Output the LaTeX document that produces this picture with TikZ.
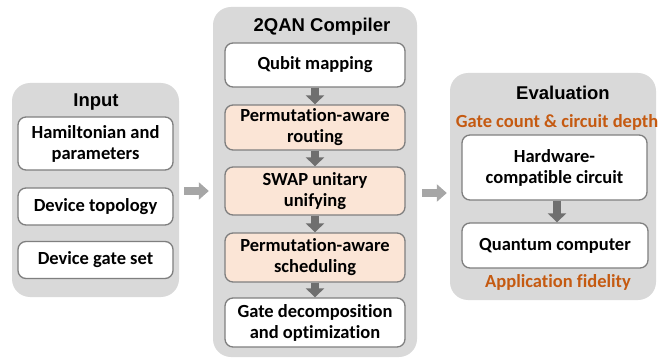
\documentclass[tikz,border=0pt]{standalone}
\usepackage{fontspec}
\setmainfont{Carlito}[Ligatures=NoCommon]
\newfontfamily\headfont{Liberation Sans}
\usetikzlibrary{arrows.meta}

\definecolor{panelgray}{HTML}{D9D9D9}
\definecolor{boxline}{HTML}{7F7F7F}
\definecolor{peach}{HTML}{FBE5D6}
\definecolor{metricorange}{HTML}{C55A11}
\definecolor{flowgray}{HTML}{A6A6A6}
\definecolor{stepgray}{HTML}{6F6F6F}

\tikzset{
  panel/.style={fill=panelgray, rounded corners=18pt, inner sep=0pt},
  stage/.style={draw=boxline, line width=1.3pt, fill=white, rounded corners=8pt,
    align=center, inner sep=2pt, font=\fontsize{18.5}{21}\selectfont\bfseries},
  newstage/.style={stage, fill=peach},
  paneltitle/.style={font=\headfont\fontsize{18.5}{21}\selectfont\bfseries},
  metric/.style={text=metricorange, font=\fontsize{18.5}{21}\selectfont\bfseries},
  flow/.style={flowgray, line width=7pt, -{Triangle[length=10pt,width=17pt]}},
  substep/.style={stepgray, line width=8pt, -{Triangle[length=9pt,width=18pt]}}
}

\begin{document}
\begin{tikzpicture}[x=1pt,y=-1pt]
  \useasboundingbox (0,0) rectangle (658,358);

  \node[panel, minimum width=167, minimum height=214] (input) at (95.5,190) {};
  \node[panel, minimum width=204, minimum height=350] (comp) at (315,182) {};
  \node[panel, minimum width=206, minimum height=227] (eval) at (553,186.5) {};

  \begin{scope}
    \node[paneltitle] (intitle) at (96,102) {Input};
    \node[stage, minimum width=155, minimum height=53] (ham) at (95.5,143.5) {Hamiltonian and\\parameters};
    \node[stage, minimum width=155, minimum height=37] (topo) at (95.5,206.5) {Device topology};
    \node[stage, minimum width=155, minimum height=37] (gates) at (95.5,260) {Device gate set};
  \end{scope}

  \begin{scope}
    \node[paneltitle] (comptitle) at (322,27) {2QAN Compiler};
    \node[stage, minimum width=180, minimum height=44] (map) at (315,65) {Qubit mapping};
    \node[newstage, minimum width=180, minimum height=45] (route) at (315,127.5) {Permutation-aware\\routing};
    \node[newstage, minimum width=180, minimum height=48] (swap) at (315,191) {SWAP unitary\\unifying};
    \node[newstage, minimum width=180, minimum height=49] (sched) at (315,257.5) {Permutation-aware\\scheduling};
    \node[stage, minimum width=180, minimum height=49] (decomp) at (315,322.5) {Gate decomposition\\and optimization};
    \foreach \a/\b in {map/route,route/swap,swap/sched,sched/decomp} {
      \draw[substep] (\a) -- (\b);
    }
  \end{scope}

  \begin{scope}
    \node[paneltitle] (evaltitle) at (563,93) {Evaluation};
    \node[metric] (count) at (557,122) {Gate count \& circuit depth};
    \node[stage, minimum width=185, minimum height=65] (hw) at (554.5,167.5) {Hardware-\\compatible circuit};
    \node[stage, minimum width=186, minimum height=45] (qc) at (555,245.5) {Quantum computer};
    \node[metric] (fid) at (558,282) {Application fidelity};
    \draw[substep] (hw.south -| 557,0) -- (qc.north -| 557,0);
  \end{scope}

  \draw[flow, shorten <=5pt, shorten >=4pt] (input.east |- 0,191) -- (comp.west |- 0,191);
  \draw[flow, shorten <=5pt, shorten >=3pt] (comp.east |- 0,193) -- (eval.west |- 0,193);
\end{tikzpicture}
\end{document}
